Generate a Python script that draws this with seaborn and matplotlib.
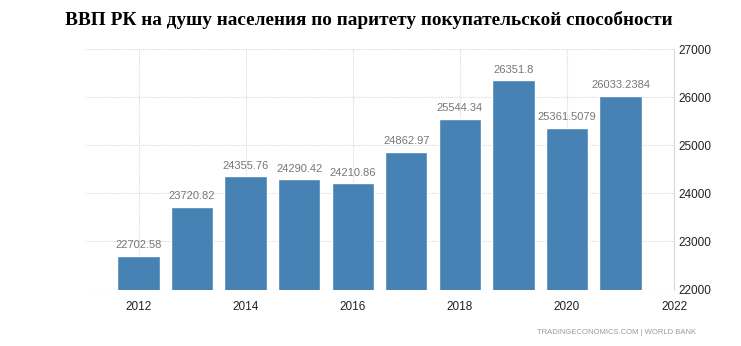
import matplotlib
matplotlib.use("Agg")
import matplotlib.pyplot as plt
import seaborn as sns
import pandas as pd

years = [2012, 2013, 2014, 2015, 2016, 2017, 2018, 2019, 2020, 2021]
values = [22702.58, 23720.82, 24355.76, 24290.42, 24210.86, 24862.97, 25544.34, 26351.8, 25361.5079, 26033.2384]
labels = ["22702.58", "23720.82", "24355.76", "24290.42", "24210.86", "24862.97",
          "25544.34", "26351.8", "25361.5079", "26033.2384"]
title = "ВВП РК на душу населения по паритету покупательской способности"
source = "TRADINGECONOMICS.COM | WORLD BANK"
xticks = [2012, 2014, 2016, 2018, 2020, 2022]
yticks = [22000, 23000, 24000, 25000, 26000, 27000]

sns.set_theme(style="white")
plt.rcParams['font.family'] = ['Liberation Sans', 'DejaVu Sans']

df = pd.DataFrame({"year": years, "value": values})

fig = plt.figure(figsize=(7.41, 3.46), dpi=100)
ax = fig.add_axes([85/741, 1-289.5/346, (674-85)/741, (289.5-49)/346])

sns.barplot(data=df, x="year", y="value", native_scale=True, width=0.79,
            color="#4682b4", saturation=1, ax=ax, zorder=2)

ax.set_xlim(2011, 2022)
ax.set_ylim(22000, 27000)
ax.set_xticks(xticks)
ax.set_yticks(yticks)
ax.yaxis.tick_right()
ax.set_xticklabels([str(t) for t in xticks], fontsize=8.5, color="#222222")
ax.set_yticklabels([str(t) for t in yticks], fontsize=8.5, color="#222222")
ax.tick_params(axis="x", length=0, pad=8)
ax.tick_params(axis="y", length=0, pad=3)
ax.set_xlabel("")
ax.set_ylabel("")
ax.grid(True, color="#d9d9d9", linestyle=(0, (1, 1)), linewidth=0.8, zorder=0)
ax.set_axisbelow(True)
for s in ["top", "left", "bottom"]:
    ax.spines[s].set_visible(False)
ax.spines["right"].set_color("#d9d9d9")
ax.spines["right"].set_linewidth(0.8)

for x, v, t in zip(years, values, labels):
    ax.annotate(t, (x, v), xytext=(0, 4), textcoords="offset points",
                ha="center", va="bottom", fontsize=8, color="#777777")

fig.text(368.5/741, 1-20/346, title, ha="center", va="center", color="black",
         fontsize=13.85, fontweight="bold", family=["Liberation Serif", "DejaVu Serif"])
fig.text(696/741, 1-332/346, source, ha="right", va="center",
         fontsize=5.5, color="#999999")

fig.savefig("out.png", dpi=100)
